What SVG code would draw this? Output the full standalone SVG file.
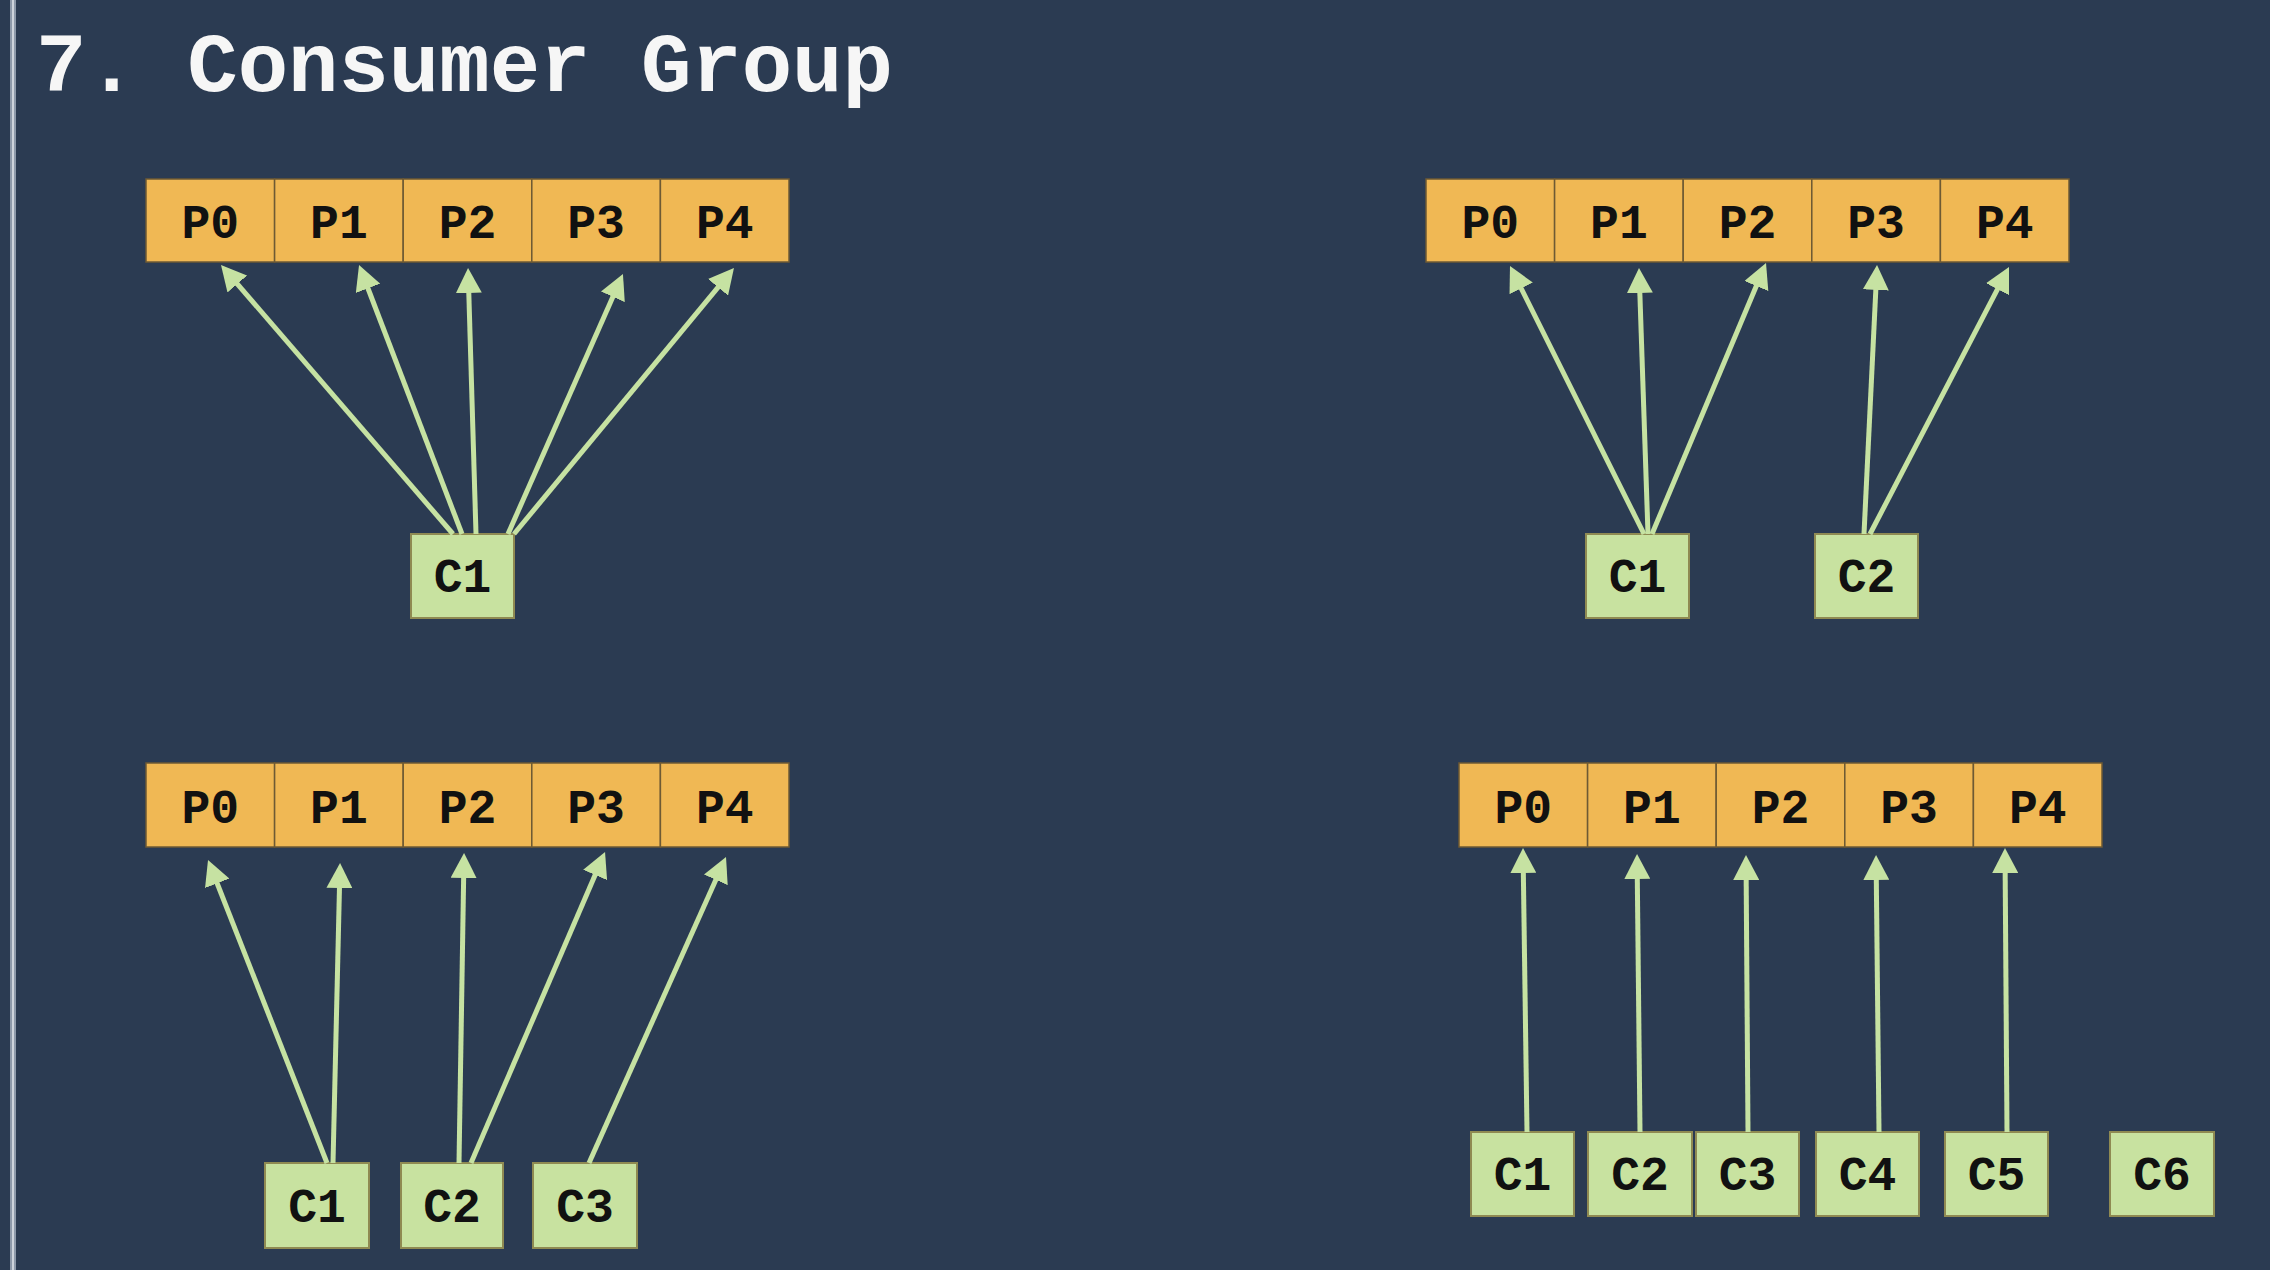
<svg xmlns="http://www.w3.org/2000/svg" width="2270" height="1270" viewBox="0 0 2270 1270">
<style>
.bg{fill:#2b3b52}
.p rect{fill:#f0b854;stroke:#6e5a34;stroke-width:1.5}
.c rect{fill:#c8e2a0;stroke:#8f8a52;stroke-width:2}
text{font-family:"Liberation Mono","Courier New",monospace;font-weight:bold;text-anchor:middle;fill:#111}
.title{fill:#f6f6f6;text-anchor:start;font-size:84px}
.lbl{font-size:48px}
.conn line{stroke:#c6e2a2;stroke-width:5;marker-end:url(#ah)}
</style>
<defs>
<marker id="ah" viewBox="0 0 25 26" refX="10" refY="13" markerWidth="25" markerHeight="26" markerUnits="userSpaceOnUse" orient="auto">
<path d="M0,0 L25,13 L0,26 Z" fill="#c6e2a2"/>
</marker>
</defs>
<rect class="bg" x="0" y="0" width="2270" height="1270"/>
<rect x="10" y="0" width="6" height="1270" fill="#8d99aa"/>
<rect x="12" y="0" width="2" height="1270" fill="#cdd3dc"/>
<text class="title" x="36" y="91">7. Consumer Group</text>

<!-- Top-left -->
<g id="tl-p0" class="p"><rect x="146" y="179" width="128.6" height="83"/><text class="lbl" x="210.3" y="238">P0</text></g>
<g id="tl-p1" class="p"><rect x="274.6" y="179" width="128.6" height="83"/><text class="lbl" x="338.9" y="238">P1</text></g>
<g id="tl-p2" class="p"><rect x="403.2" y="179" width="128.6" height="83"/><text class="lbl" x="467.5" y="238">P2</text></g>
<g id="tl-p3" class="p"><rect x="531.8" y="179" width="128.6" height="83"/><text class="lbl" x="596.1" y="238">P3</text></g>
<g id="tl-p4" class="p"><rect x="660.4" y="179" width="128.6" height="83"/><text class="lbl" x="724.7" y="238">P4</text></g>
<g id="tl-c1" class="c"><rect x="411" y="534" width="103" height="84"/><text class="lbl" x="462.5" y="592">C1</text></g>

<!-- Top-right -->
<g id="tr-p0" class="p"><rect x="1426" y="179" width="128.6" height="83"/><text class="lbl" x="1490.3" y="238">P0</text></g>
<g id="tr-p1" class="p"><rect x="1554.6" y="179" width="128.6" height="83"/><text class="lbl" x="1618.9" y="238">P1</text></g>
<g id="tr-p2" class="p"><rect x="1683.2" y="179" width="128.6" height="83"/><text class="lbl" x="1747.5" y="238">P2</text></g>
<g id="tr-p3" class="p"><rect x="1811.8" y="179" width="128.6" height="83"/><text class="lbl" x="1876.1" y="238">P3</text></g>
<g id="tr-p4" class="p"><rect x="1940.4" y="179" width="128.6" height="83"/><text class="lbl" x="2004.7" y="238">P4</text></g>
<g id="tr-c1" class="c"><rect x="1586" y="534" width="103" height="84"/><text class="lbl" x="1637.5" y="592">C1</text></g>
<g id="tr-c2" class="c"><rect x="1815" y="534" width="103" height="84"/><text class="lbl" x="1866.5" y="592">C2</text></g>

<!-- Bottom-left -->
<g id="bl-p0" class="p"><rect x="146" y="763" width="128.6" height="84"/><text class="lbl" x="210.3" y="823">P0</text></g>
<g id="bl-p1" class="p"><rect x="274.6" y="763" width="128.6" height="84"/><text class="lbl" x="338.9" y="823">P1</text></g>
<g id="bl-p2" class="p"><rect x="403.2" y="763" width="128.6" height="84"/><text class="lbl" x="467.5" y="823">P2</text></g>
<g id="bl-p3" class="p"><rect x="531.8" y="763" width="128.6" height="84"/><text class="lbl" x="596.1" y="823">P3</text></g>
<g id="bl-p4" class="p"><rect x="660.4" y="763" width="128.6" height="84"/><text class="lbl" x="724.7" y="823">P4</text></g>
<g id="bl-c1" class="c"><rect x="265" y="1163" width="104" height="85"/><text class="lbl" x="317" y="1222">C1</text></g>
<g id="bl-c2" class="c"><rect x="401" y="1163" width="102" height="85"/><text class="lbl" x="452" y="1222">C2</text></g>
<g id="bl-c3" class="c"><rect x="533" y="1163" width="104" height="85"/><text class="lbl" x="585" y="1222">C3</text></g>

<!-- Bottom-right -->
<g id="br-p0" class="p"><rect x="1459" y="763" width="128.6" height="84"/><text class="lbl" x="1523.3" y="823">P0</text></g>
<g id="br-p1" class="p"><rect x="1587.6" y="763" width="128.6" height="84"/><text class="lbl" x="1651.9" y="823">P1</text></g>
<g id="br-p2" class="p"><rect x="1716.2" y="763" width="128.6" height="84"/><text class="lbl" x="1780.5" y="823">P2</text></g>
<g id="br-p3" class="p"><rect x="1844.8" y="763" width="128.6" height="84"/><text class="lbl" x="1909.1" y="823">P3</text></g>
<g id="br-p4" class="p"><rect x="1973.4" y="763" width="128.6" height="84"/><text class="lbl" x="2037.7" y="823">P4</text></g>
<g id="br-c1" class="c"><rect x="1471" y="1132" width="103" height="84"/><text class="lbl" x="1522.5" y="1190">C1</text></g>
<g id="br-c2" class="c"><rect x="1588" y="1132" width="104" height="84"/><text class="lbl" x="1640" y="1190">C2</text></g>
<g id="br-c3" class="c"><rect x="1696" y="1132" width="103" height="84"/><text class="lbl" x="1747.5" y="1190">C3</text></g>
<g id="br-c4" class="c"><rect x="1816" y="1132" width="103" height="84"/><text class="lbl" x="1867.5" y="1190">C4</text></g>
<g id="br-c5" class="c"><rect x="1945" y="1132" width="103" height="84"/><text class="lbl" x="1996.5" y="1190">C5</text></g>
<g id="br-c6" class="c"><rect x="2110" y="1132" width="104" height="84"/><text class="lbl" x="2162" y="1190">C6</text></g>

<g id="connectors" class="conn">
<line x1="453" y1="534" x2="230.8" y2="276.4"/>
<line x1="462" y1="534" x2="364.4" y2="279"/>
<line x1="476" y1="534" x2="468.5" y2="283"/>
<line x1="508" y1="534" x2="616.9" y2="287.7"/>
<line x1="514" y1="534" x2="724.4" y2="279.6"/>

<line x1="1644" y1="534" x2="1516.7" y2="279.4"/>
<line x1="1648" y1="534" x2="1639.5" y2="283"/>
<line x1="1652" y1="534" x2="1760.2" y2="276.8"/>
<line x1="1864" y1="534" x2="1876.3" y2="280"/>
<line x1="1870" y1="534" x2="2002.1" y2="280.3"/>

<line x1="327" y1="1163" x2="213.5" y2="874"/>
<line x1="333" y1="1163" x2="339.7" y2="878"/>
<line x1="459" y1="1163" x2="463.8" y2="868"/>
<line x1="471" y1="1163" x2="599.1" y2="865.8"/>
<line x1="589" y1="1163" x2="719.9" y2="870.7"/>

<line x1="1527" y1="1132" x2="1523.2" y2="863"/>
<line x1="1640" y1="1132" x2="1637.2" y2="869"/>
<line x1="1748" y1="1132" x2="1746.1" y2="870"/>
<line x1="1879" y1="1132" x2="1876.2" y2="870"/>
<line x1="2007" y1="1132" x2="2005.1" y2="863"/>
</g>
</svg>
